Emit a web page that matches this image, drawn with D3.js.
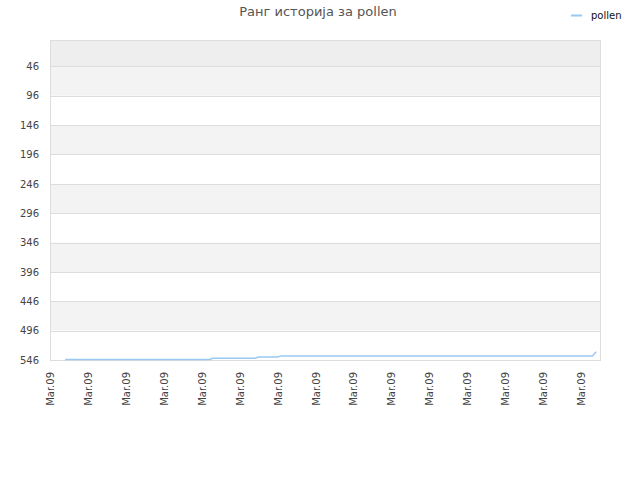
<!DOCTYPE html>
<html>
<head>
<meta charset="UTF-8">
<title>Ранг историја за pollen</title>
<script src="https://cdn.jsdelivr.net/npm/d3@7/dist/d3.min.js"></script>
<style>
  body { margin: 0; background: #fff; }
  text { font-family: "DejaVu Sans", sans-serif; }
</style>
</head>
<body>
<script>
// rank history for "pollen" (lower rank number = better)
var pointIdx  = [4, 42, 43, 54, 55, 60, 61, 143, 144];
var rankVals  = [545, 545, 543, 543, 541, 541, 539, 539, 532];
var yTicks    = [46, 96, 146, 196, 246, 296, 346, 396, 446, 496, 546];
var xTickIdx  = [0, 10, 20, 30, 40, 50, 60, 70, 80, 90, 100, 110, 120, 130, 140];
var xTickText = ["Mar.09", "Mar.09", "Mar.09", "Mar.09", "Mar.09", "Mar.09", "Mar.09", "Mar.09",
                 "Mar.09", "Mar.09", "Mar.09", "Mar.09", "Mar.09", "Mar.09", "Mar.09"];
var seriesName = "pollen";

var width = 640, height = 480;
var m = {top: 40, right: 40, bottom: 120, left: 50};
var lineColor = "#99c9f3";

var svg = d3.select("body").append("svg")
  .attr("width", width)
  .attr("height", height);

var x = d3.scaleLinear().domain([0, 145]).range([m.left, width - m.right]);
var y = d3.scaleLinear().domain([1, 546]).range([m.top, height - m.bottom]);

// background bands between ticks
var edges = [1].concat(yTicks);
var bands = d3.pairs(edges);
svg.append("g").selectAll("rect")
  .data(bands)
  .enter().append("rect")
  .attr("x", x(0))
  .attr("width", x(145) - x(0))
  .attr("y", function(d){ return y(d[0]); })
  .attr("height", function(d){ return y(d[1]) - y(d[0]); })
  .attr("fill", function(d, i){
    if (i === 0) return "#eeeeee";
    return (bands.length - 1 - i) % 2 === 1 ? "#f3f3f3" : "#ffffff";
  });

// grid lines
svg.append("g").selectAll("line")
  .data(yTicks)
  .enter().append("line")
  .attr("x1", x(0)).attr("x2", x(145))
  .attr("y1", function(d){ return Math.round(y(d)) + 0.5; })
  .attr("y2", function(d){ return Math.round(y(d)) + 0.5; })
  .attr("stroke", "#dddddd");

// plot frame
svg.append("rect")
  .attr("x", x(0) + 0.5).attr("y", y(1) + 0.5)
  .attr("width", x(145) - x(0)).attr("height", y(546) - y(1))
  .attr("fill", "none")
  .attr("stroke", "#dddddd");

// y axis
var yAxis = svg.append("g")
  .attr("transform", "translate(" + x(0) + ",0)")
  .call(d3.axisLeft(y).tickValues(yTicks).tickSize(0).tickPadding(11));
yAxis.select(".domain").remove();
yAxis.selectAll("text")
  .attr("font-size", "10px")
  .attr("font-family", "DejaVu Sans, sans-serif")
  .attr("fill", "#444");

// x axis
var xAxis = svg.append("g")
  .attr("transform", "translate(0," + y(546) + ")")
  .call(d3.axisBottom(x).tickValues(xTickIdx).tickSize(0)
    .tickFormat(function(d, i){ return xTickText[i]; }));
xAxis.select(".domain").remove();
xAxis.selectAll("text")
  .attr("font-size", "10px")
  .attr("font-family", "DejaVu Sans, sans-serif")
  .attr("fill", "#444")
  .attr("text-anchor", "end")
  .attr("transform", "rotate(-90)")
  .attr("x", -12)
  .attr("y", 0)
  .attr("dy", "0.35em");

// the line
var line = d3.line()
  .x(function(d){ return x(d[0]); })
  .y(function(d){ return y(d[1]); });
svg.append("path")
  .datum(d3.zip(pointIdx, rankVals))
  .attr("d", line)
  .attr("fill", "none")
  .attr("stroke", lineColor)
  .attr("stroke-width", 1.5);

// title
svg.append("text")
  .attr("x", 318).attr("y", 16)
  .attr("text-anchor", "middle")
  .attr("font-size", "13px")
  .attr("fill", "#555")
  .text("Ранг историја за " + seriesName);

// legend
svg.append("line")
  .attr("x1", 571).attr("x2", 582)
  .attr("y1", 15.5).attr("y2", 15.5)
  .attr("stroke", lineColor)
  .attr("stroke-width", 2);
svg.append("text")
  .attr("x", 591).attr("y", 18.5)
  .attr("font-size", "10px")
  .attr("fill", "#111")
  .text(seriesName);
</script>
</body>
</html>
